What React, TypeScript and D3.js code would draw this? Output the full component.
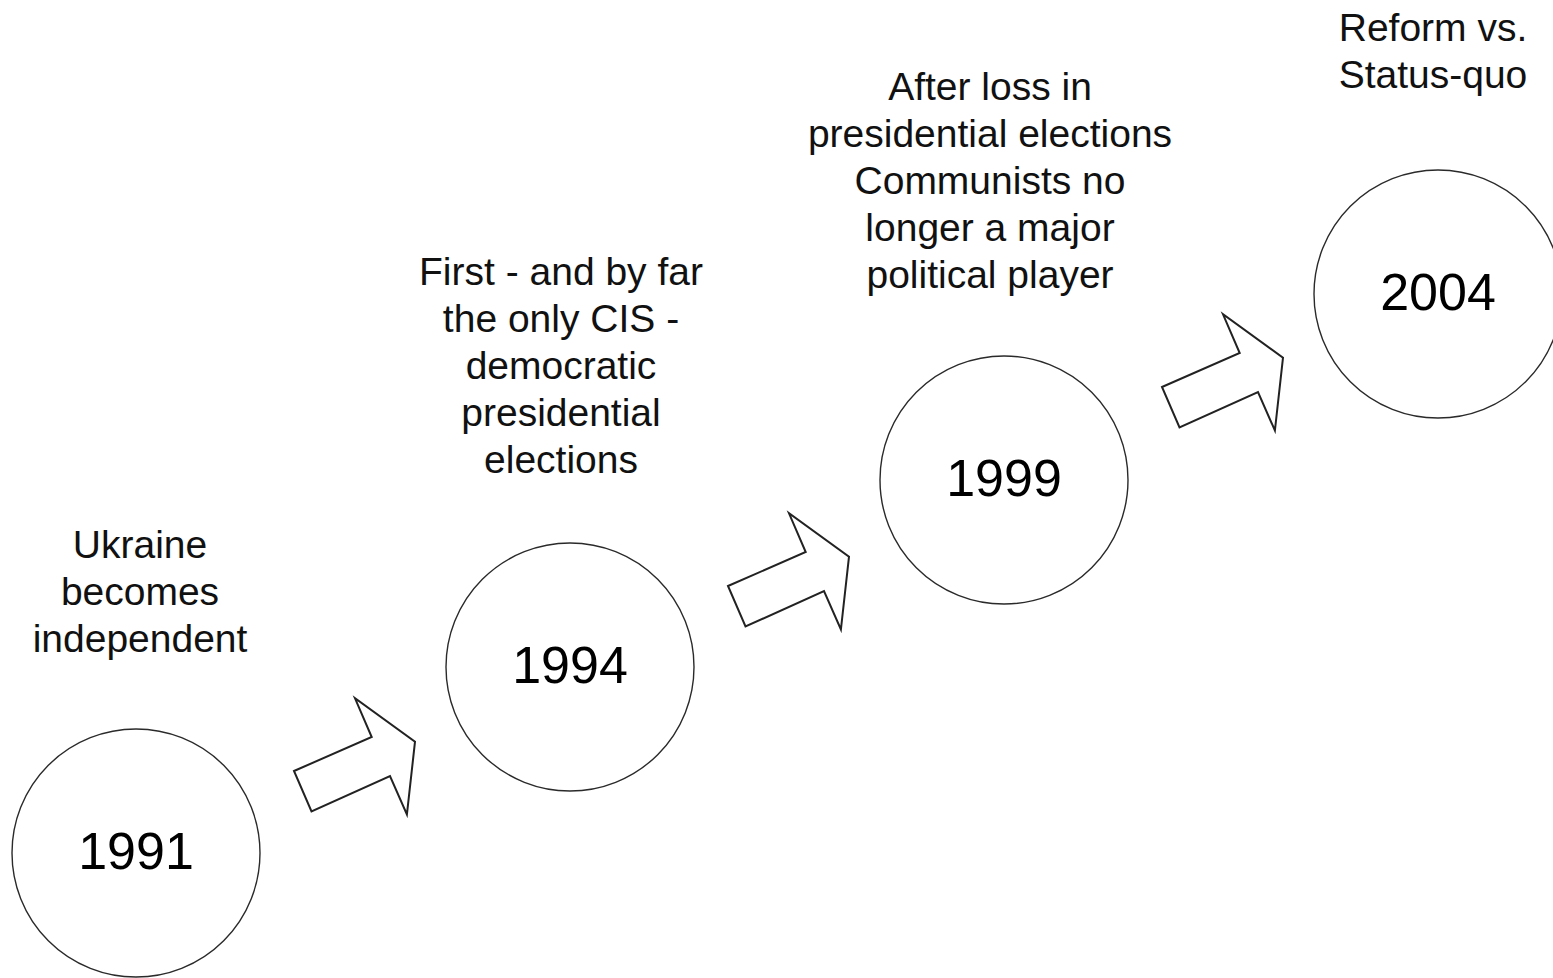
import React from "react";
import * as d3 from "d3";

const years = ["1991", "1994", "1999", "2004"];
const descriptions: string[][] = [
  ["Ukraine", "becomes", "independent"],
  ["First - and by far", "the only CIS -", "democratic", "presidential", "elections"],
  ["After loss in", "presidential elections", "Communists no", "longer a major", "political player"],
  ["Reform vs.", "Status-quo"],
];

const W = 1553;
const H = 978;
const FONT = "'Liberation Sans', Arial, Helvetica, sans-serif";

// layout (positions kept separate from data)
const circleCy = [853, 667, 480, 294];
const textDx = [4, -9, -14, -5];
const textFirstBaseline = [558, 285, 100, 41];
const arrowTails: [number, number][] = [
  [294, 771],
  [728, 586],
  [1162, 387],
];
const arrowShape: [number, number][] = [
  [0, 0],
  [77.7, -34],
  [61, -72.7],
  [121, -29.3],
  [112.9, 43.5],
  [96, 5.2],
  [17.5, 40.5],
];

export default function App() {
  const x = d3.scaleLinear().domain([0, years.length - 1]).range([136, 1438]);
  const r = 124;
  const lineH = 47;
  const line = d3.line<[number, number]>().curve(d3.curveLinearClosed);

  return (
    <svg
      width={W}
      height={H}
      style={{ position: "absolute", left: 0, top: 0, background: "#fff" }}
    >
      <rect x={0} y={0} width={W} height={H} fill="#fff" />
      {years.map((yr, i) => (
        <g key={yr}>
          <circle
            cx={x(i)}
            cy={circleCy[i]}
            r={r}
            fill="#fff"
            stroke="#2a2a2a"
            strokeWidth={1.4}
          />
          <text
            x={x(i)}
            y={circleCy[i] + 16}
            textAnchor="middle"
            fontFamily={FONT}
            fontSize={52}
            fill="#000"
          >
            {yr}
          </text>
          <text
            textAnchor="middle"
            fontFamily={FONT}
            fontSize={39}
            fill="#111"
          >
            {descriptions[i].map((ln, j) => (
              <tspan key={j} x={x(i) + textDx[i]} y={textFirstBaseline[i] + j * lineH}>
                {ln}
              </tspan>
            ))}
          </text>
        </g>
      ))}
      {arrowTails.map(([ax, ay], i) => (
        <path
          key={i}
          d={line(arrowShape.map(([dx, dy]) => [ax + dx, ay + dy] as [number, number])) || ""}
          fill="#fff"
          stroke="#222"
          strokeWidth={2}
          strokeLinejoin="miter"
        />
      ))}
    </svg>
  );
}
